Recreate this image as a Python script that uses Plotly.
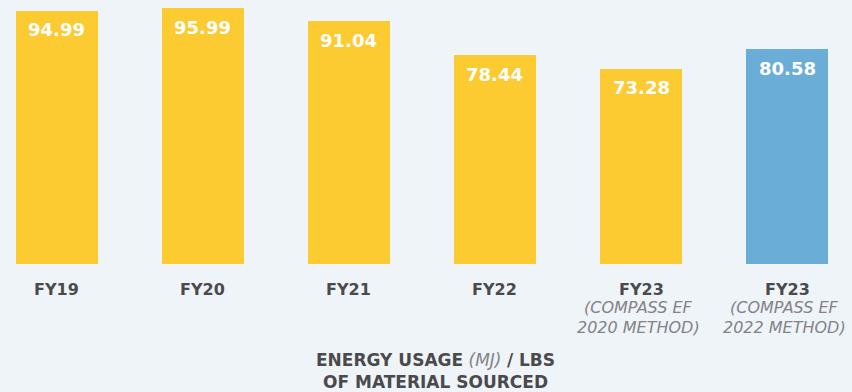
import plotly.graph_objects as go

# Energy intensity per fiscal year
categories = ["FY19", "FY20", "FY21", "FY22", "FY23 (2020)", "FY23 (2022)"]
values = [94.99, 95.99, 91.04, 78.44, 73.28, 80.58]
tick_main = ["FY19", "FY20", "FY21", "FY22", "FY23", "FY23"]
tick_sub = [[], [], [], [], ["(COMPASS EF", "2020 METHOD)"], ["(COMPASS EF", "2022 METHOD)"]]

YELLOW = "#fcca31"
BLUE = "#6aaed7"
BG = "#eff4f9"
DARK = "#4a4a4c"
GREY = "#838387"
FONT = "DejaVu Sans, sans-serif"
colors = [YELLOW] * 5 + [BLUE]

fig = go.Figure(go.Bar(
    x=list(range(len(categories))),
    y=values,
    width=0.562,
    marker=dict(color=colors, line=dict(width=0)),
    hoverinfo="skip",
))

for i, v in enumerate(values):
    # value label inside the top of each bar
    fig.add_annotation(
        x=i, y=v, xref="x", yref="y", text=f"<b>{v:.2f}</b>",
        showarrow=False, yanchor="middle", yshift=-19,
        font=dict(family=FONT, size=18, color="white"),
    )
    # category label under the bar
    fig.add_annotation(
        x=i, y=0, xref="x", yref="y", text=f"<b>{tick_main[i]}</b>",
        showarrow=False, yanchor="middle", yshift=-25,
        font=dict(family=FONT, size=16, color=DARK),
    )
    for k, line in enumerate(tick_sub[i]):
        fig.add_annotation(
            x=i, y=0, xref="x", yref="y", text=f"<i>{line}</i>",
            showarrow=False, yanchor="middle", yshift=-43 - 20 * k, xshift=-3,
            font=dict(family=FONT, size=16, color=GREY),
        )

# axis caption below the categories
caption = (
    f"<b>ENERGY USAGE</b> <i><span style='color:{GREY}'>(MJ)</span></i> <b>/ LBS</b>"
    "<br><b>OF MATERIAL SOURCED</b>"
)
plot_h = 264
fig.add_annotation(
    x=0.511, y=-(371 - plot_h) / plot_h, xref="paper", yref="paper",
    text=caption, showarrow=False, yanchor="middle",
    font=dict(family=FONT, size=17, color=DARK),
)

fig.update_layout(
    width=852, height=392,
    margin=dict(l=0, r=0, t=0, b=128),
    paper_bgcolor=BG, plot_bgcolor=BG,
    showlegend=False,
    bargap=0,
    xaxis=dict(range=[-0.39, 5.445], visible=False, fixedrange=True),
    yaxis=dict(range=[0, 99.1], visible=False, fixedrange=True),
)

fig.write_html("out.html")
